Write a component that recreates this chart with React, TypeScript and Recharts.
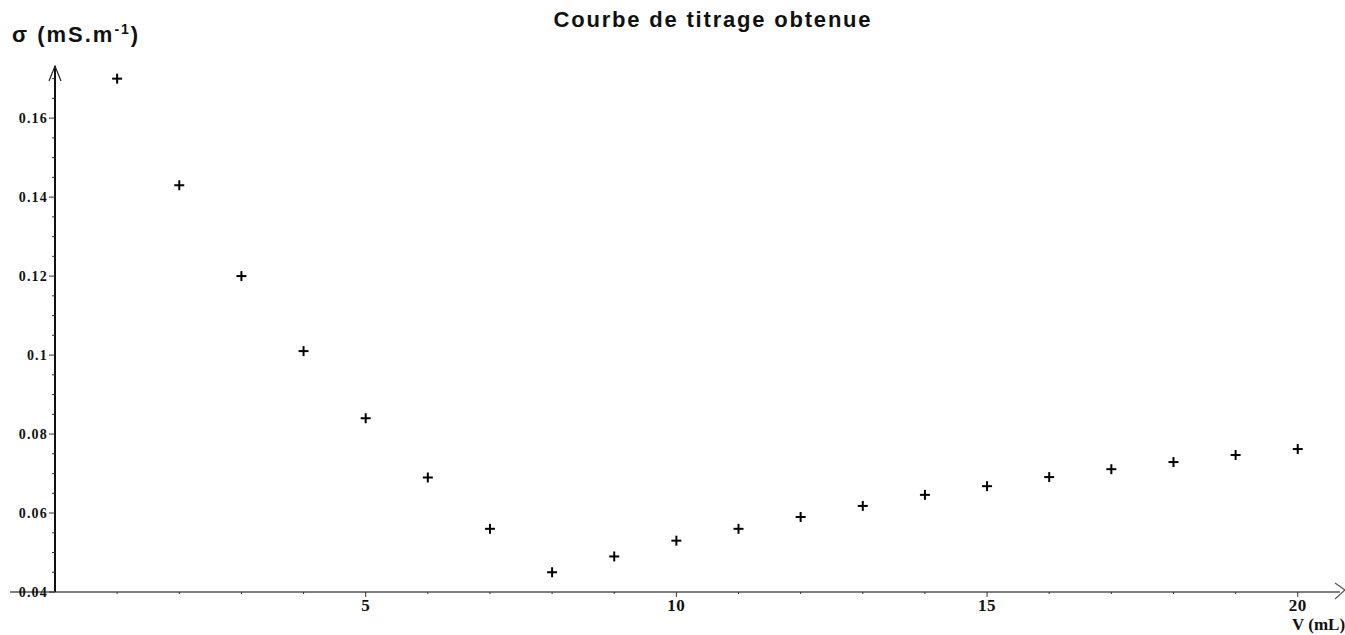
import React from 'react';
import { ScatterChart, Scatter, XAxis, YAxis, ReferenceDot } from 'recharts';

const volumes = [1, 2, 3, 4, 5, 6, 7, 8, 9, 10, 11, 12, 13, 14, 15, 16, 17, 18, 19, 20];
const conductivity = [
  0.17, 0.143, 0.12, 0.101, 0.084, 0.069, 0.056, 0.045, 0.049, 0.053,
  0.056, 0.059, 0.0618, 0.0646, 0.0668, 0.0691, 0.0711, 0.0729, 0.0747, 0.0762,
];
const xTicks = [0, 1, 2, 3, 4, 5, 6, 7, 8, 9, 10, 11, 12, 13, 14, 15, 16, 17, 18, 19, 20];
const xMajorLabels = [5, 10, 15, 20];
const yTicks = [
  0.04, 0.045, 0.05, 0.055, 0.06, 0.065, 0.07, 0.075, 0.08, 0.085, 0.09, 0.095,
  0.1, 0.105, 0.11, 0.115, 0.12, 0.125, 0.13, 0.135, 0.14, 0.145, 0.15, 0.155,
  0.16, 0.165, 0.17,
];
const yMajorLabels = ['0.04', '0.06', '0.08', '0.1', '0.12', '0.14', '0.16'];
const xMax = 20.68;
const yMin = 0.04;
const yMax = 0.1732;

const data = volumes.map((v, i) => ({ x: v, y: conductivity[i] }));

const isMajorY = (v: number) => yMajorLabels.find((l) => Math.abs(parseFloat(l) - v) < 1e-6);

const YTick = (props: any) => {
  const { x, y, payload } = props;
  const label = isMajorY(payload.value);
  return (
    <g>
      <line x1={x - (label ? 6 : 3)} y1={y} x2={x} y2={y} stroke="#333" strokeWidth={1} />
      {label && (
        <text
          x={x - 7}
          y={y + 5}
          textAnchor="end"
          fontFamily="'Liberation Serif', 'DejaVu Serif', serif"
          fontWeight="bold"
          fontSize={14}
          letterSpacing={1.2}
          fill="#111"
        >
          {label}
        </text>
      )}
    </g>
  );
};

const XTick = (props: any) => {
  const { x, y, payload } = props;
  const major = xMajorLabels.includes(payload.value);
  return (
    <g>
      {payload.value === 0 && <line x1={x - 45} y1={y} x2={x} y2={y} stroke="#555" strokeWidth={1.5} />}
      {payload.value !== 0 && (
        <line x1={x} y1={y} x2={x} y2={y + (major ? 5 : 2)} stroke="#333" strokeWidth={1} />
      )}
      {major && (
        <text
          x={x}
          y={y + 19}
          textAnchor="middle"
          fontFamily="'Liberation Serif', 'DejaVu Serif', serif"
          fontWeight="bold"
          fontSize={17}
          letterSpacing={0.5}
          fill="#111"
        >
          {payload.value}
        </text>
      )}
    </g>
  );
};

const PlusShape = (props: any) => {
  const { cx, cy } = props;
  return (
    <g stroke="#000" strokeWidth={2}>
      <line x1={cx - 5} y1={cy} x2={cx + 5} y2={cy} />
      <line x1={cx} y1={cy - 5} x2={cx} y2={cy + 5} />
    </g>
  );
};

const UpArrow = (props: any) => {
  const { cx, cy } = props;
  return (
    <path d={`M ${cx - 6} ${cy + 15} L ${cx} ${cy} L ${cx + 6} ${cy + 15}`} fill="none" stroke="#222" strokeWidth={1.2} />
  );
};

const RightArrow = (props: any) => {
  const { cx, cy } = props;
  return (
    <path d={`M ${cx - 5} ${cy - 9} L ${cx + 5} ${cy - 2} L ${cx - 5} ${cy + 7}`} fill="none" stroke="#555" strokeWidth={1.2} />
  );
};

export default function App() {
  return (
    <div style={{ position: 'absolute', left: 0, top: 0, width: 1345, height: 635, overflow: 'hidden', background: '#fff' }}>
      <div
        style={{
          position: 'absolute',
          left: 413,
          top: 9,
          width: 600,
          textAlign: 'center',
          fontFamily: "'Liberation Sans', Arial, sans-serif",
          fontWeight: 'bold',
          fontSize: 22,
          lineHeight: '22px',
          letterSpacing: 1.8,
          color: '#111',
        }}
      >
        Courbe de titrage obtenue
      </div>
      <div
        style={{
          position: 'absolute',
          left: 12,
          top: 24,
          fontFamily: "'Liberation Sans', Arial, sans-serif",
          fontWeight: 'bold',
          fontSize: 22,
          lineHeight: '22px',
          letterSpacing: 2,
          color: '#111',
          whiteSpace: 'nowrap',
        }}
      >
        σ (mS.m<sup style={{ fontSize: 14, lineHeight: 0 }}>-1</sup>)
      </div>
      <div
        style={{
          position: 'absolute',
          left: 1292,
          top: 616,
          fontFamily: "'Liberation Serif', serif",
          fontWeight: 'bold',
          fontSize: 17,
          lineHeight: '17px',
          color: '#111',
          whiteSpace: 'nowrap',
        }}
      >
        V (mL)
      </div>
      <ScatterChart width={1345} height={635} margin={{ top: 66, right: 5, bottom: 0, left: 0 }}>
        <XAxis
          type="number"
          dataKey="x"
          domain={[0, xMax]}
          ticks={xTicks}
          interval={0}
          height={43}
          tickSize={0}
          tickMargin={0}
          tickLine={false}
          axisLine={{ stroke: '#555', strokeWidth: 1.5 }}
          tick={<XTick />}
          allowDataOverflow
        />
        <YAxis
          type="number"
          dataKey="y"
          domain={[yMin, yMax]}
          ticks={yTicks}
          interval={0}
          width={55}
          tickSize={0}
          tickMargin={0}
          tickLine={false}
          axisLine={{ stroke: '#111', strokeWidth: 2 }}
          tick={<YTick />}
          allowDataOverflow
        />
        <ReferenceDot x={0} y={yMax} ifOverflow="visible" shape={<UpArrow />} />
        <ReferenceDot x={xMax} y={yMin} ifOverflow="visible" shape={<RightArrow />} />
        <Scatter data={data} shape={<PlusShape />} isAnimationActive={false} />
      </ScatterChart>
    </div>
  );
}
